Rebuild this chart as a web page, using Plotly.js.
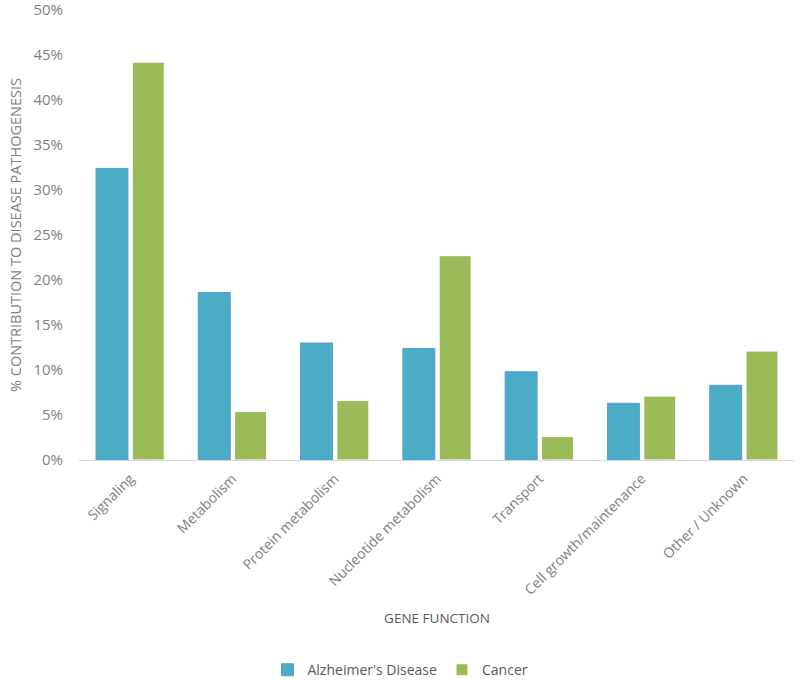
<!DOCTYPE html>
<html>
<head>
<meta charset="utf-8">
<script src="https://cdn.plot.ly/plotly-3.0.1.min.js"></script>
<style>html,body{margin:0;padding:0;background:#fff;}#chart{width:800px;height:680px;}</style>
</head>
<body>
<div id="chart"></div>
<script>
const categories = ["Signaling", "Metabolism", "Protein metabolism", "Nucleotide metabolism", "Transport", "Cell growth/maintenance", "Other / Unknown"];
const alzheimers = [0.324, 0.186, 0.130, 0.124, 0.098, 0.063, 0.083];
const cancer = [0.442, 0.054, 0.066, 0.227, 0.026, 0.071, 0.121];
const yTickVals = [0, 0.05, 0.10, 0.15, 0.20, 0.25, 0.30, 0.35, 0.40, 0.45, 0.50];

const fontFam = "Open Sans, Liberation Sans, sans-serif";
const gray = "#7f7f7f";

const data = [
  {type: "bar", name: "Alzheimer's Disease", x: categories, y: alzheimers,
   marker: {color: "#4BACC6", line: {color: "#5B9BD5", width: 1}}},
  {type: "bar", name: "Cancer", x: categories, y: cancer,
   marker: {color: "#9BBB59", line: {color: "#ffffff", width: 1}}}
];

const layout = {
  width: 800, height: 680,
  margin: {l: 79, r: 5, t: 10, b: 220, autoexpand: false},
  paper_bgcolor: "#fff", plot_bgcolor: "#fff",
  font: {family: fontFam, color: gray, size: 13},
  bargap: 0.29, bargroupgap: 0.12,
  showlegend: true,
  legend: {orientation: "h", x: 0.449, xanchor: "center", y: -0.467, yanchor: "middle",
           font: {size: 14, color: "#595959"}, traceorder: "normal",
           itemwidth: 30, tracegroupgap: 0},
  xaxis: {
    tickangle: -45, tickfont: {size: 14, color: gray},
    showline: true, linecolor: "#d9d9d9", linewidth: 1,
    ticks: "", showgrid: false, zeroline: false,
    ticklabelstandoff: 4,
    title: {text: "GENE FUNCTION", font: {size: 13.5, color: "#595959"}, standoff: 16},
    automargin: false
  },
  yaxis: {
    range: [0, 0.5], tickvals: yTickVals, tickformat: ".0%",
    tickfont: {size: 15, color: gray},
    ticklabeloverflow: "allow",
    showgrid: false, zeroline: false, showline: false, ticks: "",
    ticklabelstandoff: 15,
    title: {text: "% CONTRIBUTION TO DISEASE PATHOGENESIS", font: {size: 14.5, color: gray}, standoff: 8},
    automargin: false
  }
};

Plotly.newPlot("chart", data, layout, {displayModeBar: false, staticPlot: true});
</script>
</body>
</html>
